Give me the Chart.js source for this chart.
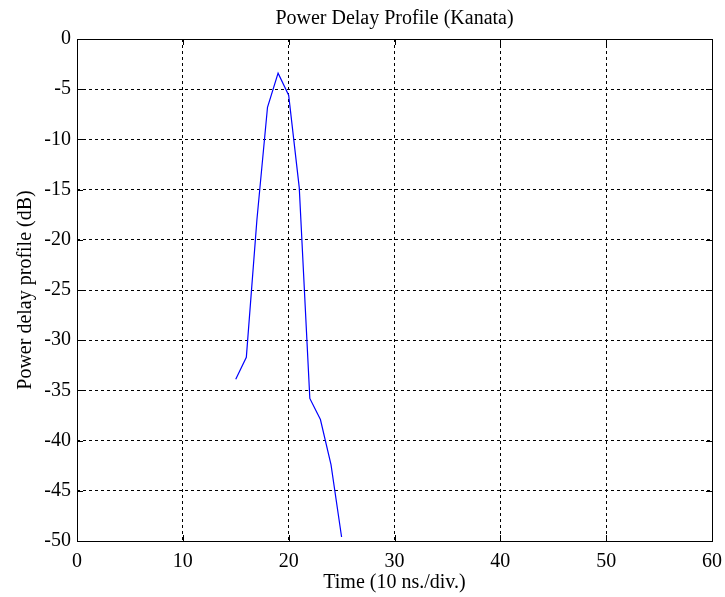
<!DOCTYPE html>
<html>
<head>
<meta charset="utf-8">
<script src="https://cdn.jsdelivr.net/npm/chart.js@4/dist/chart.umd.min.js"></script>
<style>
html,body{margin:0;padding:0;background:#fff;}
#wrap{width:725px;height:597px;}
</style>
</head>
<body>
<div id="wrap"><canvas id="c" width="725" height="597"></canvas></div>
<script>
const timeValues = [15, 16, 17, 18, 19, 20, 21, 22, 23, 24, 25];
const powerValues = [-33.9, -31.7, -18.0, -6.8, -3.4, -5.6, -14.8, -35.8, -37.9, -42.4, -49.6];
const xTicks = [0, 10, 20, 30, 40, 50, 60];
const yTicks = [0, -5, -10, -15, -20, -25, -30, -35, -40, -45, -50];

const FONT = "'Liberation Serif', 'Times New Roman', serif";

const boxPlugin = {
  id: 'box',
  afterLayout(chart) {
    const tb = chart.titleBlock;
    if (tb) {
      tb.left = chart.chartArea.left;
      tb.right = chart.chartArea.right;
      tb.width = tb.right - tb.left;
    }
  },
  afterDraw(chart) {
    const a = chart.chartArea, ctx = chart.ctx;
    ctx.save();
    ctx.strokeStyle = '#000';
    ctx.lineWidth = 1;
    ctx.setLineDash([]);
    ctx.strokeRect(Math.round(a.left) + 0.5, Math.round(a.top) + 0.5, Math.round(a.right - a.left), Math.round(a.bottom - a.top));
    const xs = chart.scales.x, ys = chart.scales.y;
    ctx.beginPath();
    xTicks.forEach(v => {
      const px = Math.round(xs.getPixelForValue(v)) + 0.5;
      ctx.moveTo(px, a.bottom); ctx.lineTo(px, a.bottom - 6);
      ctx.moveTo(px, a.top); ctx.lineTo(px, a.top + 6);
    });
    yTicks.forEach(v => {
      const py = Math.round(ys.getPixelForValue(v)) + 0.5;
      ctx.moveTo(a.left, py); ctx.lineTo(a.left + 6, py);
      ctx.moveTo(a.right, py); ctx.lineTo(a.right - 6, py);
    });
    ctx.stroke();
    ctx.restore();
  }
};

new Chart(document.getElementById('c'), {
  type: 'line',
  data: {
    datasets: [{
      data: timeValues.map((t, i) => ({x: t, y: powerValues[i]})),
      borderColor: '#0000ff',
      borderWidth: 1.2,
      pointRadius: 0,
      fill: false,
      tension: 0
    }]
  },
  options: {
    responsive: false,
    animation: false,
    devicePixelRatio: 1,
    layout: {padding: {top: 0, right: 13, bottom: 0, left: 0}},
    plugins: {
      legend: {display: false},
      tooltip: {enabled: false},
      title: {
        display: true,
        text: 'Power Delay Profile (Kanata)',
        color: '#000',
        font: {family: FONT, size: 20, weight: 'normal', lineHeight: 1.2},
        padding: {top: 7, bottom: 8}
      }
    },
    scales: {
      x: {
        type: 'linear',
        min: 0, max: 60,
        afterBuildTicks(s) { s.ticks = xTicks.map(v => ({value: v})); },
        afterFit(s) { s.height = 56; s.paddingLeft = 0; s.paddingRight = 0; },
        ticks: {color: '#000', font: {family: FONT, size: 20}, padding: 9, maxRotation: 0},
        grid: {color: '#000', lineWidth: 1, tickLength: 0, drawTicks: false},
        border: {display: false, dash: [3, 3]},
        title: {display: true, text: 'Time (10 ns./div.)', color: '#000', font: {family: FONT, size: 20, lineHeight: 1.2}, padding: {top: 0, bottom: 2}}
      },
      y: {
        type: 'linear',
        min: -50, max: 0,
        afterBuildTicks(s) { s.ticks = yTicks.map(v => ({value: v})); },
        afterFit(s) { s.width = 77; },
        ticks: {color: '#000', font: {family: FONT, size: 20}, padding: 6},
        grid: {color: '#000', lineWidth: 1, tickLength: 0, drawTicks: false},
        border: {display: false, dash: [3, 3]},
        title: {display: true, text: 'Power delay profile (dB)', color: '#000', font: {family: FONT, size: 20, lineHeight: 1.2}, padding: {top: 14, bottom: 0}}
      }
    }
  },
  plugins: [boxPlugin]
});
</script>
</body>
</html>
